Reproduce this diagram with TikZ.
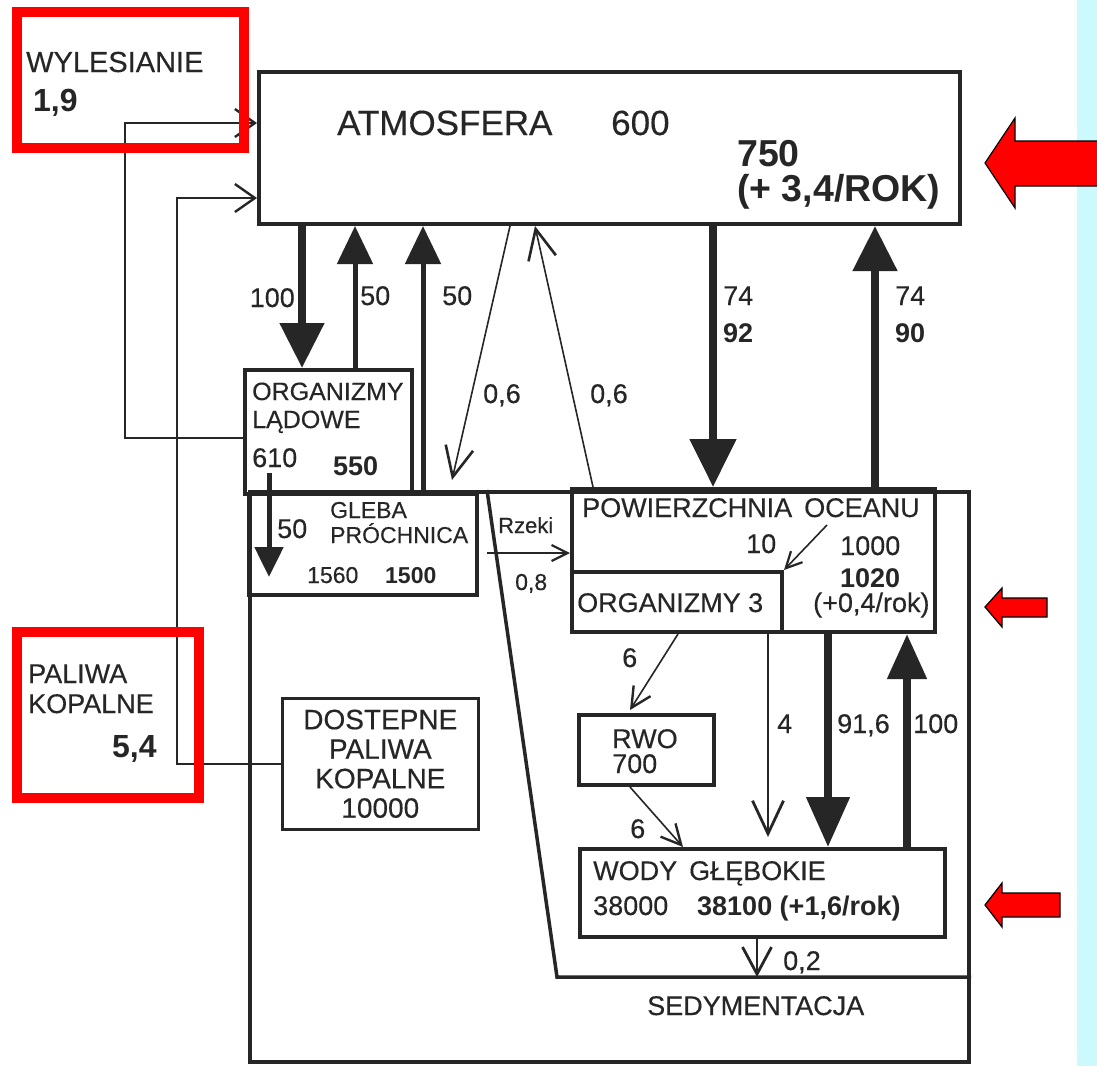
\documentclass[tikz,border=0pt]{standalone}
\usepackage{fontspec}
\setmainfont{Liberation Sans}
\newfontfamily\scanfont{Liberation Sans}[FakeBold=0.35]
\usetikzlibrary{arrows.meta,calc}
\definecolor{ink}{RGB}{38,38,38}
\definecolor{cyanstrip}{RGB}{204,250,252}
\definecolor{redc}{RGB}{255,0,0}
\begin{document}
\begin{tikzpicture}[x=1pt,y=-1pt,
  box/.style={draw=ink, line width=4pt, inner sep=0pt, anchor=north west},
  txt/.style={anchor=base west, inner sep=0pt, text=ink, font=\scanfont\fontsize{27}{30}\selectfont},
  txtb/.style={anchor=base west, inner sep=0pt, text=ink, font=\bfseries\fontsize{27}{30}\selectfont},
  sml/.style={anchor=base west, inner sep=0pt, text=ink, font=\scanfont\fontsize{23}{25}\selectfont},
  smlb/.style={anchor=base west, inner sep=0pt, text=ink, font=\bfseries\fontsize{23}{25}\selectfont},
  fatarr/.style={draw=ink, line width=8pt, -{Triangle[length=45pt,width=43pt]}},
  medarr/.style={draw=ink, line width=5pt, -{Triangle[length=38pt,width=35pt]}},
  thinarr/.style={draw=ink, line width=1.6pt, -{Straight Barb[length=30pt,width=28pt,line width=2.6pt]}},
  feed/.style={draw=ink, line width=1.4pt, -{Straight Barb[length=20pt,width=28pt,line width=2.4pt]}},
  smallarr/.style={draw=ink, line width=1.6pt, -{Straight Barb[length=16pt,width=16pt,line width=2.2pt]}},
  redbox/.style={draw=redc, line width=10pt},
  redarr/.style={fill=redc, draw=black, line width=1.2pt, line join=miter}
]
\useasboundingbox (0,0) rectangle (1097,1066);
\fill[white] (0,0) rectangle (1097,1066);
\fill[cyanstrip] (1077,0) rectangle (1097,1066);

% boxes
\node[box, minimum width=719pt, minimum height=570pt] (outer) at (248,490) {};
\node[box, minimum width=701pt, minimum height=152pt] (atm) at (257,70) {};
\node[box, minimum width=167pt, minimum height=124pt] (org) at (243,368) {};
\node[box, minimum width=228pt, minimum height=101pt] (gleba) at (247,492) {};
\node[box, minimum width=363pt, minimum height=143pt] (pow) at (570,487) {};
\node[box, minimum width=210pt, minimum height=60pt] (org3) at (570,570) {};
\node[box, minimum width=135pt, minimum height=70pt] (rwo) at (577,713) {};
\node[box, minimum width=365pt, minimum height=88pt] (wody) at (578,847) {};
\node[box, line width=2.6pt, minimum width=196pt, minimum height=131pt] (dost) at (281,697) {};

% sedimentation trapezoid
\coordinate (trtop) at (487,490);
\coordinate (sedl) at (557,977);
\draw[ink, line width=3.5pt] (trtop) -- (sedl) -- (sedl -| outer.east);

% inputs from deforestation and fossil fuels
\draw[feed] ($(org.north west)+(0,70)$) -- ++(-118,0) |- ($(atm.north west)+(0,53)$);
\draw[feed] (dost.west) -- ++(-104,0) |- ($(atm.north west)+(0,128)$);

% atmosphere - land
\draw[fatarr] ($(atm.south west)+(45,0)$) -- ($(org.north west)+(59,0)$);
\draw[medarr] ($(org.north west)+(112,0)$) -- ($(atm.south west)+(98,0)$);
\draw[medarr] ($(gleba.north west)+(176,0)$) -- ($(atm.south west)+(166,0)$);
\draw[thinarr] ($(atm.south west)+(253,0)$) -- ($(gleba.north west)+(205,-12)$);
\draw[thinarr] ($(pow.north west)+(23,0)$) -- ($(atm.south west)+(278,0)$);
\draw[draw=ink, line width=5pt, -{Triangle[length=30pt,width=28pt]}] ($(org.north west)+(26,105)$) -- ($(gleba.north west)+(22,85)$);

% atmosphere - ocean
\draw[fatarr, -{Triangle[length=48pt,width=45pt]}] ($(atm.south west)+(456,0)$) -- ($(pow.north west)+(143,0)$);
\draw[fatarr] ($(pow.north west)+(305,0)$) -- ($(atm.south west)+(618,0)$);

% rivers
\draw[smallarr] ($(gleba.north east)+(8,61)$) -- ($(pow.north west)+(0,66)$);

% ocean internal
\draw[smallarr] ($(pow.north west)+(257,38)$) -- (org3.north east);
\draw[smallarr, -{Straight Barb[length=20pt,width=20pt,line width=2.4pt]}] ($(org3.south west)+(108,0)$) -- ($(rwo.north west)+(53,-3)$);
\draw[smallarr, -{Straight Barb[length=20pt,width=20pt,line width=2.4pt]}] ($(rwo.south west)+(53,0)$) -- ($(wody.north west)+(105,0)$);
\draw[thinarr, -{Straight Barb[length=33pt,width=31pt,line width=2.8pt]}] ($(org3.south west)+(198,0)$) -- ($(wody.north west)+(190,-10)$);
\draw[fatarr, -{Triangle[length=50pt,width=42pt]}] ($(pow.south west)+(258,0)$) -- ($(wody.north west)+(250,0)$);
\draw[fatarr, -{Triangle[length=45pt,width=38pt]}] ($(wody.north west)+(329,0)$) -- ($(pow.south west)+(337,0)$);
\draw[thinarr, -{Straight Barb[length=27pt,width=29pt,line width=2.8pt]}] ($(wody.south west)+(179,0)$) -- ($(sedl)+(200,0)$);

% texts
\node[txt, font=\scanfont\fontsize{29}{31}\selectfont] (t_wyl) at (26,72) {WYLESIANIE};
\node[txtb, font=\bfseries\fontsize{32}{34}\selectfont] (t_19) at (33,111) {1,9};
\node[txt, font=\scanfont\fontsize{35}{37}\selectfont] (t_atm) at (337,135) {ATMOSFERA};
\node[txt, font=\scanfont\fontsize{35}{37}\selectfont] (t_600) at (611,135) {600};
\node[txtb, font=\bfseries\fontsize{37.5}{40}\selectfont] (t_750) at (737,166) {750};
\node[txtb, font=\bfseries\fontsize{37.5}{40}\selectfont] (t_rok) at (737,201) {(+ 3,4/ROK)};

\node[txt, anchor=base east] (t_100a) at (295,307) {100};
\node[txt] (t_50a) at (360,305) {50};
\node[txt] (t_50b) at (442,305) {50};
\node[txt] (t_06a) at (483,403) {0,6};
\node[txt] (t_06b) at (590,403) {0,6};
\node[txt] (t_74a) at (723,305) {74};
\node[txtb] (t_92) at (723,342) {92};
\node[txt] (t_74b) at (895,305) {74};
\node[txtb] (t_90) at (895,342) {90};

\node[txt, font=\scanfont\fontsize{25}{27}\selectfont] (t_org) at (252,400) {ORGANIZMY};
\node[txt, font=\scanfont\fontsize{25}{27}\selectfont] (t_lad) at (252,428) {LĄDOWE};
\node[txt] (t_610) at (252,467) {610};
\node[txtb] (t_550) at (333,475) {550};
\node[txt] (t_50c) at (277,538) {50};
\node[sml] (t_gleba) at (330,518) {GLEBA};
\node[sml] (t_proch) at (330,543) {PRÓCHNICA};
\node[sml] (t_1560) at (307,583) {1560};
\node[smlb] (t_1500) at (385,583) {1500};
\node[sml, font=\scanfont\fontsize{22}{24}\selectfont] (t_rzeki) at (498,533) {Rzeki};
\node[sml] (t_08) at (515,590) {0,8};

\node[txt] (t_pow) at (582,517) {POWIERZCHNIA\, OCEANU};
\node[txt] (t_10) at (746,553) {10};
\node[txt] (t_1000) at (840,555) {1000};
\node[txtb] (t_1020) at (840,587) {1020};
\node[txt] (t_rok2) at (813,612) {(+0,4/rok)};
\node[txt] (t_org3) at (577,612) {ORGANIZMY 3};
\node[txt] (t_6a) at (622,667) {6};
\node[txt] (t_4) at (777,733) {4};
\node[txt] (t_916) at (837,733) {91,6};
\node[txt] (t_100b) at (913,733) {100};
\node[txt] (t_rwo) at (612,748) {RWO};
\node[txt] (t_700) at (612,773) {700};
\node[txt] (t_6b) at (630,838) {6};
\node[txt] (t_wody) at (593,880) {WODY\, GŁĘBOKIE};
\node[txt] (t_38000) at (593,915) {38000};
\node[txtb] (t_38100) at (697,915) {38100 (+1,6/rok)};
\node[txt] (t_02) at (783,970) {0,2};
\node[txt] (t_sed) at (647,1015) {SEDYMENTACJA};

\node[inner sep=0pt, align=center, text=ink, font=\scanfont\fontsize{28}{29.5}\selectfont] (t_dost) at (dost.center) {DOSTEPNE\\PALIWA\\KOPALNE\\10000};

\node[txt] (t_pal) at (28,683) {PALIWA};
\node[txt] (t_kop) at (28,713) {KOPALNE};
\node[txtb, font=\bfseries\fontsize{32}{34}\selectfont] (t_54) at (112,757) {5,4};

% red highlights
\draw[redbox] (17,12) rectangle (244,148);
\draw[redbox] (17,632) rectangle (199,798);
\draw[redarr] (1098,141) -- (1015,141) -- (1015,118) -- (985,163) -- (1015,208) -- (1015,186) -- (1098,186);
\draw[redarr] (1047,598) -- (1002,598) -- (1002,588) -- (985,607) -- (1002,627) -- (1002,617) -- (1047,617) -- cycle;
\draw[redarr] (1060,893) -- (1002,893) -- (1002,883) -- (985,905) -- (1002,927) -- (1002,917) -- (1060,917) -- cycle;
\end{tikzpicture}
\end{document}
